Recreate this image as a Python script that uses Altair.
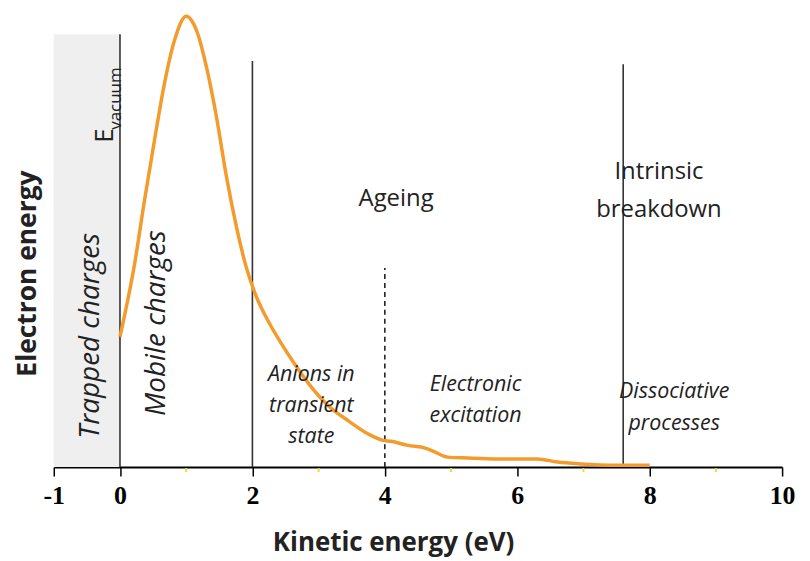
import altair as alt
import pandas as pd

# Energy distribution curve (normalized intensity vs kinetic energy, eV)
curve_x = [0.00, 0.22, 0.37, 0.52, 0.67, 0.82, 1.00, 1.16, 1.31, 1.46, 1.61, 1.76,
           1.91, 2.05, 2.24, 2.44, 2.65, 2.90, 3.15, 3.45, 3.75, 3.97, 4.09, 4.35, 4.61, 4.73, 4.95,
           5.25, 5.70, 6.30, 6.61, 6.95, 7.51, 8.00]
curve_y = [0.288, 0.448, 0.589, 0.721, 0.846, 0.941, 0.996, 0.963, 0.881, 0.771, 0.640, 0.530,
           0.440, 0.380, 0.322, 0.272, 0.225, 0.175, 0.135, 0.102, 0.073, 0.059, 0.057, 0.048,
           0.042, 0.035, 0.022, 0.020, 0.018, 0.018, 0.011, 0.007, 0.004, 0.004]

# Region boundaries
solid_x = [0.0, 2.0, 7.6]
solid_top = [0.956, 0.897, 0.890]
dashed_x = [4.0]
dashed_top = [0.440]

# Trapped-charge band
band_x = [-1.0]
band_x2 = [0.0]
band_top = [0.956]

# Faint yellow minor ticks at odd values
minor_x = [1, 3, 5, 7, 9]

# Labels
upright_text = ["Ageing", "Intrinsic", "breakdown"]
upright_x = [4.17, 8.14, 8.14]
upright_y = [0.593, 0.651, 0.567]

italic_text = ["Anions in", "transient", "state", "Electronic", "excitation",
               "Dissociative", "processes"]
italic_x = [2.89, 2.89, 2.89, 5.37, 5.37, 8.37, 8.37]
italic_y = [0.204, 0.134, 0.066, 0.182, 0.112, 0.165, 0.095]

vert_text = ["Trapped charges", "Mobile charges"]
vert_x = [-0.43, 0.56]
vert_y = [0.290, 0.318]

evac_text = ["E", "vacuum"]
evac_x = [-0.23, -0.06]
evac_y = [0.732, 0.814]
evac_size = [26, 17]

tick_values = [-1, 0, 2, 4, 6, 8, 10]

X_DOMAIN = [-1, 10]
Y_DOMAIN = [0, 1]
SANS = "Open Sans"

xs = alt.Scale(domain=X_DOMAIN, nice=False, zero=False)
ys = alt.Scale(domain=Y_DOMAIN, nice=False, zero=True)

curve_df = pd.DataFrame({"x": curve_x, "y": curve_y})
solid_df = pd.DataFrame({"x": solid_x, "top": solid_top, "bottom": [0.0] * len(solid_x)})
dashed_df = pd.DataFrame({"x": dashed_x, "top": dashed_top, "bottom": [0.0] * len(dashed_x)})
band_df = pd.DataFrame({"x": band_x, "x2": band_x2, "top": band_top, "bottom": [0.0]})
minor_df = pd.DataFrame({"x": minor_x})
up_df = pd.DataFrame({"t": upright_text, "x": upright_x, "y": upright_y})
it_df = pd.DataFrame({"t": italic_text, "x": italic_x, "y": italic_y})
vt_df = pd.DataFrame({"t": vert_text, "x": vert_x, "y": vert_y})
ev_df = pd.DataFrame({"t": evac_text, "x": evac_x, "y": evac_y, "s": evac_size})

x_axis = alt.Axis(
    values=tick_values, grid=False, domainColor="black", domainWidth=2,
    tickColor="black", tickWidth=1.5, tickSize=9,
    labelExpr="'' + datum.value",
    labelFont="Liberation Serif", labelFontWeight="bold", labelFontSize=26,
    labelColor="black", labelPadding=7, labelFlush=False,
    title="Kinetic energy (eV)", titleFont=SANS, titleFontWeight="bold",
    titleFontSize=26, titleColor="#222", titleX=341, titleY=76,
    titleAlign="center", titleBaseline="middle",
)
y_axis = alt.Axis(
    domain=False, ticks=False, labels=False, grid=False,
    title="Electron energy", titleFont=SANS, titleFontWeight="bold",
    titleFontSize=26.5, titleColor="#222", titleAngle=270, titleX=-26, titleY=260,
    titleAlign="center", titleBaseline="middle",
)

band = alt.Chart(band_df).mark_rect(color="#efefef").encode(
    x=alt.X("x:Q", scale=xs, axis=x_axis), x2="x2:Q",
    y=alt.Y("bottom:Q", scale=ys, axis=y_axis), y2="top:Q",
)

minor = alt.Chart(minor_df).mark_rule(color="#e6dc3c", strokeWidth=2).encode(
    x=alt.X("x:Q", scale=xs), y=alt.value(456), y2=alt.value(460),
)

solid = alt.Chart(solid_df).mark_rule(color="#333", strokeWidth=1.6).encode(
    x=alt.X("x:Q", scale=xs), y=alt.Y("bottom:Q", scale=ys), y2="top:Q",
)
dashed = alt.Chart(dashed_df).mark_rule(color="#222", strokeWidth=1.6, strokeDash=[5, 4]).encode(
    x=alt.X("x:Q", scale=xs), y=alt.Y("bottom:Q", scale=ys), y2="top:Q",
)

line = alt.Chart(curve_df).mark_line(color="#F39B2C", strokeWidth=3.5, interpolate="monotone").encode(
    x=alt.X("x:Q", scale=xs), y=alt.Y("y:Q", scale=ys),
)

up = alt.Chart(up_df).mark_text(font=SANS, fontSize=24, color="#222", align="center",
                                 baseline="middle").encode(
    x=alt.X("x:Q", scale=xs), y=alt.Y("y:Q", scale=ys), text="t:N",
)
it = alt.Chart(it_df).mark_text(font=SANS, fontSize=21.5, fontStyle="italic", color="#222",
                                 align="center", baseline="middle").encode(
    x=alt.X("x:Q", scale=xs), y=alt.Y("y:Q", scale=ys), text="t:N",
)
vt = alt.Chart(vt_df).mark_text(font=SANS, fontSize=28, fontStyle="italic", color="#222",
                                 align="center", baseline="middle", angle=270).encode(
    x=alt.X("x:Q", scale=xs), y=alt.Y("y:Q", scale=ys), text="t:N",
)
ev = alt.Chart(ev_df).mark_text(font=SANS, color="#222", align="center",
                                 baseline="middle", angle=270).encode(
    x=alt.X("x:Q", scale=xs), y=alt.Y("y:Q", scale=ys), text="t:N",
    size=alt.Size("s:Q", scale=None, legend=None),
)

chart = alt.layer(band, minor, solid, dashed, line, up, it, vt, ev).properties(
    width=732, height=455,
    autosize=alt.AutoSizeParams(type="none"),
    padding={"left": 46, "top": 5, "right": 20, "bottom": 90},
    background="white",
).configure_view(stroke=None)

chart.save("out.html", embed_options={"renderer": "svg", "actions": False})
